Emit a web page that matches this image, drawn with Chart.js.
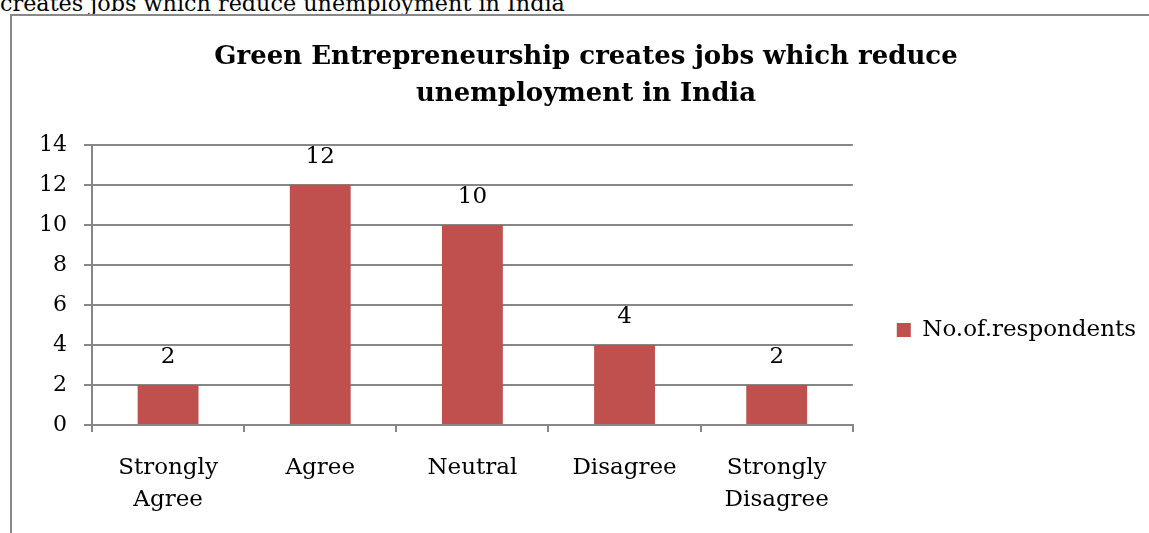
<!DOCTYPE html>
<html>
<head>
<meta charset="utf-8">
<script src="https://cdn.jsdelivr.net/npm/chart.js@4"></script>
<style>
  html, body { margin: 0; padding: 0; background: #fff; overflow: hidden; width: 1149px; height: 533px; }
  #cortado { position: absolute; left: 0; top: -8px; font: 22.3px "DejaVu Serif"; line-height: 22px; color: #000; white-space: nowrap; }
  #marco { position: absolute; left: 10px; top: 14px; width: 1300px; height: 700px; border-left: 2px solid #888; border-top: 2px solid #888; }
  #grafica { position: absolute; left: 26px; top: 0; }
</style>
</head>
<body>
<div id="cortado">creates jobs which reduce unemployment in India</div>
<div id="marco"></div>
<canvas id="grafica" width="1150" height="660"></canvas>
<script>
const categorias = [['Strongly', 'Agree'], 'Agree', 'Neutral', 'Disagree', ['Strongly', 'Disagree']];
const respuestas = [2, 12, 10, 4, 2];
const nombreSerie = 'No.of.respondents';
const titulo = ['Green Entrepreneurship creates jobs which reduce', 'unemployment in India'];
const ejeY = { min: 0, max: 14, paso: 2 };

const gris = '#878787';
const fuente = 'DejaVu Serif';

// numeros encima de cada barra
const etiquetasValor = {
  id: 'etiquetasValor',
  afterDatasetsDraw(chart) {
    const ctx = chart.ctx;
    const meta = chart.getDatasetMeta(0);
    ctx.save();
    ctx.font = '23px "' + fuente + '"';
    ctx.fillStyle = '#000';
    ctx.textAlign = 'center';
    ctx.textBaseline = 'middle';
    meta.data.forEach((barra, i) => {
      ctx.fillText(String(respuestas[i]), barra.x, barra.y - 28);
    });
    ctx.restore();
  }
};

new Chart(document.getElementById('grafica').getContext('2d'), {
  type: 'bar',
  data: {
    labels: categorias,
    datasets: [{
      label: nombreSerie,
      data: respuestas,
      backgroundColor: '#C0504D',
      borderWidth: 0,
      barPercentage: 0.4,
      categoryPercentage: 1
    }]
  },
  options: {
    responsive: false,
    animation: false,
    layout: { padding: { top: 0, left: 0, right: 30, bottom: 0 } },
    plugins: {
      title: {
        display: true,
        text: titulo,
        color: '#000',
        font: { family: fuente, size: 26, weight: 'bold', lineHeight: 1.42 },
        padding: { top: 39, bottom: 32 }
      },
      legend: {
        position: 'right',
        align: 'center',
        maxWidth: 400,
        labels: {
          color: '#000',
          font: { family: fuente, size: 23 },
          boxWidth: 14,
          boxHeight: 14,
          padding: 44
        }
      },
      tooltip: { enabled: false }
    },
    scales: {
      x: {
        grid: { drawOnChartArea: false, drawTicks: true, tickLength: 7, color: gris, lineWidth: 2 },
        border: { display: true, color: gris, width: 2 },
        ticks: { color: '#000', font: { family: fuente, size: 23, lineHeight: 1.39 }, padding: 20, maxRotation: 0 },
        afterFit(scale) { scale.height += 124; }
      },
      y: {
        min: ejeY.min,
        max: ejeY.max,
        ticks: { stepSize: ejeY.paso, color: '#000', font: { family: fuente, size: 22 }, padding: 17 },
        grid: { color: gris, lineWidth: 2, tickLength: 8 },
        border: { display: true, color: gris, width: 2 },
        afterFit(scale) { scale.width = 66; }
      }
    }
  },
  plugins: [etiquetasValor]
});
</script>
</body>
</html>
